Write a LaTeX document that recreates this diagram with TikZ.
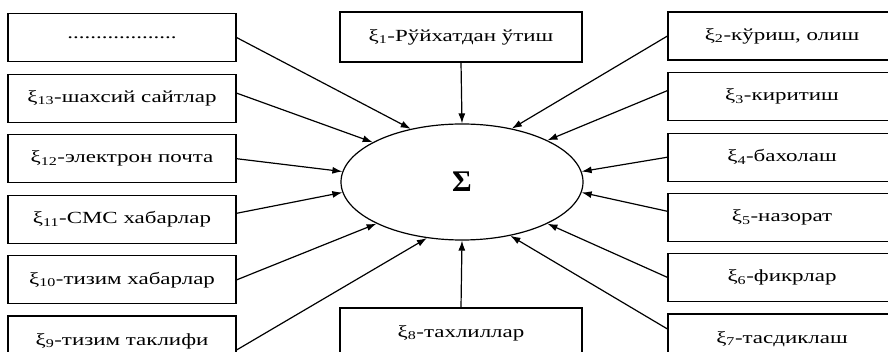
\documentclass[tikz,border=0pt]{standalone}
\usepackage{fontspec}
\setmainfont[FakeStretch=1.35]{Liberation Serif}
\newfontfamily\sigmafont{Liberation Serif}
\usetikzlibrary{positioning, arrows.meta, shapes.geometric}

\begin{document}
\begin{tikzpicture}[
	x=1pt, y=-1pt,
	factor/.style={
		draw,
		line width=1.1pt,
		inner sep=0pt,
		minimum height=48pt,
		minimum width=228pt,
		font=\fontsize{17}{20}\selectfont,
		align=center
	},
	midfactor/.style={
		factor,
		minimum height=50pt,
		minimum width=242pt
	},
	total/.style={
		draw,
		ellipse,
		line width=1.2pt,
		inner sep=0pt,
		minimum width=242pt,
		minimum height=116pt
	},
	arrow/.style={-{Latex[length=10pt,width=7pt]}, line width=1.2pt}
	]
	
	\clip (0,0) rectangle (888,352);
	
	% ======================
	% Sum in the middle
	% ======================
	\node (sum) [total] at (462,182) {\sigmafont\bfseries\fontsize{30}{30}\selectfont Σ};
	
	% ======================
	% Left column
	% ======================
	\node (blank) [factor] at (122,37.5) {...................};
	\node (sites) [factor, below=11.5pt of blank] {ξ\textsubscript{13}-шахсий сайтлар};
	\node (email) [factor, below=11.5pt of sites] {ξ\textsubscript{12}-электрон почта};
	\node (sms) [factor, below=11.5pt of email] {ξ\textsubscript{11}-СМС хабарлар};
	\node (sysmsg) [factor, below=11.5pt of sms] {ξ\textsubscript{10}-тизим хабарлар};
	\node (offer) [factor, minimum height=50pt, below=11pt of sysmsg] {ξ\textsubscript{9}-тизим таклифи};
	
	\draw[arrow] (blank.east) -- (sum.134);
	\draw[arrow] ([yshift=5pt]sites.east) -- (sum.156);
	\draw[arrow] (email.east) -- (sum.175);
	\draw[arrow] ([yshift=6pt]sms.east) -- (sum.185);
	\draw[arrow] (sysmsg.east) -- (sum.206);
	\draw[arrow] ([yshift=-9pt]offer.east) -- (sum.238);
	
	% ======================
	% Middle column
	% ======================
	\node (reg) [midfactor] at (461,37) {ξ\textsubscript{1}-Рўйхатдан ўтиш};
	\node (analysis) [midfactor] at (461,333) {ξ\textsubscript{8}-тахлиллар};
	
	\draw[arrow] (reg.south) -- (sum.90);
	\draw[arrow] (analysis.north) -- (sum.270);
	
	% ======================
	% Right column
	% ======================
	\node (view) [factor] at (782,36) {ξ\textsubscript{2}-кўриш, олиш};
	\node (input) [factor, below=11.5pt of view] {ξ\textsubscript{3}-киритиш};
	\node (rate) [factor, below=11.5pt of input] {ξ\textsubscript{4}-бахолаш};
	\node (control) [factor, below=11pt of rate] {ξ\textsubscript{5}-назорат};
	\node (ideas) [factor, below=11pt of control] {ξ\textsubscript{6}-фикрлар};
	\node (confirm) [factor, minimum height=50pt, below=11.5pt of ideas] {ξ\textsubscript{7}-тасдиклаш};
	
	\draw[arrow] (view.west) -- (sum.47);
	\draw[arrow] ([yshift=6pt]input.west) -- (sum.26);
	\draw[arrow] (rate.west) -- (sum.5);
	\draw[arrow] ([yshift=6pt]control.west) -- (sum.355);
	\draw[arrow] (ideas.west) -- (sum.334);
	\draw[arrow] ([yshift=10pt]confirm.west) -- (sum.312);
	
\end{tikzpicture}
\end{document}
